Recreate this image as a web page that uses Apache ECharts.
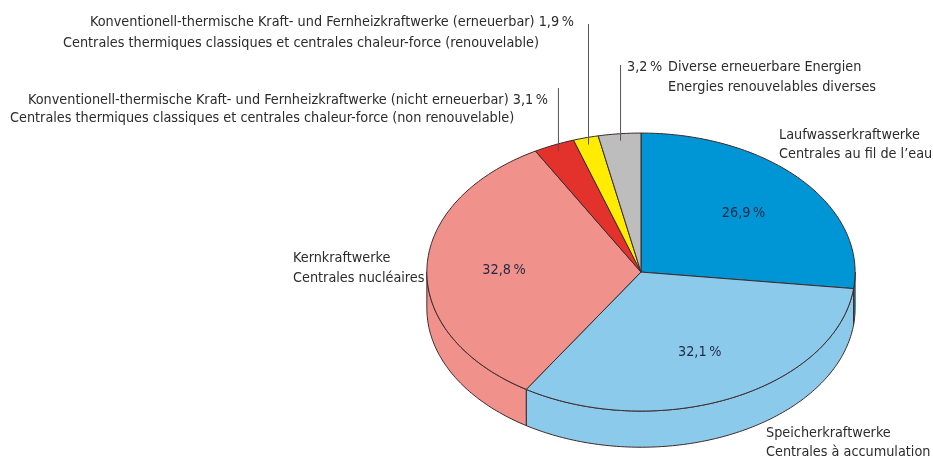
<!DOCTYPE html>
<html>
<head>
<meta charset="utf-8">
<script src="https://cdn.jsdelivr.net/npm/echarts@6/dist/echarts.min.js"></script>
<style>
  html, body { margin: 0; padding: 0; background: #fff; }
  #chart { width: 933px; height: 458px; }
</style>
</head>
<body>
<div id="chart"></div>
<script>
// Elektrizitätsproduktion nach Kraftwerkstyp
var namesDe = [
    'Laufwasserkraftwerke',
    'Speicherkraftwerke',
    'Kernkraftwerke',
    'Konventionell-thermische Kraft- und Fernheizkraftwerke (nicht erneuerbar)',
    'Konventionell-thermische Kraft- und Fernheizkraftwerke (erneuerbar)',
    'Diverse erneuerbare Energien'
];
var namesFr = [
    'Centrales au fil de l\u2019eau',
    'Centrales à accumulation',
    'Centrales nucléaires',
    'Centrales thermiques classiques et centrales chaleur-force (non renouvelable)',
    'Centrales thermiques classiques et centrales chaleur-force (renouvelable)',
    'Energies renouvelables diverses'
];
var shares = [26.9, 32.1, 32.8, 3.1, 1.9, 3.2];
var colors = ['#0096d6', '#8ccaeb', '#f0918c', '#e3312c', '#ffec00', '#bdbdbd'];

// where the percentage goes and where the label lines sit
var labelLayout = [
    { pct: 'inside', lines: [[779, 135], [779, 154]] },
    { pct: 'inside', lines: [[766, 433], [766, 452]] },
    { pct: 'inside', lines: [[293, 258], [293, 278]] },
    { pct: 'end', lines: [[28, 100], [10, 118]], leaderTop: 88 },
    { pct: 'end', lines: [[90, 22], [63, 43]], leaderTop: 24 },
    { pct: 'start', lines: [[668, 67], [668, 87]], pctX: 627, leaderTop: 65 }
];

var total = shares.reduce(function (a, b) { return a + b; }, 0);
var starts = [];
var acc = 0;
shares.forEach(function (v) { starts.push(acc); acc += v; });

var FONT = '"Liberation Sans Narrow", "DejaVu Sans Condensed", sans-serif';
var FS = 14.3;

function fmt(v) {
    return v.toFixed(1).replace('.', ',') + '\u2009%';
}

var chart = echarts.init(document.getElementById('chart'));

function txt(t, x, y, fill, align) {
    return {
        type: 'text',
        style: {
            text: t, x: x, y: y, fill: fill, fontSize: FS, fontFamily: FONT,
            align: align || 'left', verticalAlign: 'middle'
        }
    };
}

function renderItem(params, api) {
    var i = params.dataIndex;
    var W = api.getWidth(), H = api.getHeight();
    var cx = W * 0.687, cy = H * 0.594;
    var rx = W * 0.2295, ry = H * 0.3035, depth = H * 0.079;
    var a1 = api.value(1) / total * 360;
    var a2 = (api.value(1) + api.value(0)) / total * 360;

    function pt(deg, r, dy) {
        var t = deg * Math.PI / 180;
        return [cx + rx * r * Math.sin(t), cy - ry * r * Math.cos(t) + (dy || 0)];
    }
    function arc(from, to, dy) {
        var pts = [];
        var n = Math.max(2, Math.ceil(Math.abs(to - from)));
        for (var k = 0; k <= n; k++) pts.push(pt(from + (to - from) * k / n, 1, dy));
        return pts;
    }

    var children = [];
    var stroke = '#3a2a2a';

    // side wall (front half only)
    var lo = Math.max(a1, 90), hi = Math.min(a2, 270);
    if (lo < hi) {
        var side = arc(lo, hi, 0).concat(arc(hi, lo, depth));
        children.push({
            type: 'polygon',
            shape: { points: side },
            style: { fill: colors[i], stroke: stroke, lineWidth: 1 }
        });
    }
    // top face
    children.push({
        type: 'polygon',
        shape: { points: [[cx, cy]].concat(arc(a1, a2, 0)) },
        style: { fill: colors[i], stroke: stroke, lineWidth: 1, lineJoin: 'round' }
    });

    var lay = labelLayout[i];
    var v = api.value(0);
    var mid = (a1 + a2) / 2;
    var line1 = namesDe[i];
    if (lay.pct === 'end') line1 = namesDe[i] + ' ' + fmt(v);
    if (lay.pct === 'start') children.push(txt(fmt(v), lay.pctX, lay.lines[0][1], '#2b2b2b'));
    children.push(txt(line1, lay.lines[0][0], lay.lines[0][1], '#2b2b2b'));
    children.push(txt(namesFr[i], lay.lines[1][0], lay.lines[1][1], '#2b2b2b'));

    if (lay.pct === 'inside') {
        var c = pt(mid, 0.64, 0);
        children.push(txt(fmt(v), c[0], c[1], '#1f2a45', 'center'));
    } else {
        var e = pt(mid, 0.95, 0);
        children.push({
            type: 'line',
            shape: { x1: e[0], y1: lay.leaderTop, x2: e[0], y2: e[1] },
            style: { stroke: '#555', lineWidth: 1 }
        });
    }

    return { type: 'group', children: children };
}

var option = {
    animation: false,
    series: [{
        type: 'custom',
        coordinateSystem: 'none',
        renderItem: renderItem,
        data: shares.map(function (v, i) { return [v, starts[i]]; })
    }]
};
chart.setOption(option);
</script>
</body>
</html>
